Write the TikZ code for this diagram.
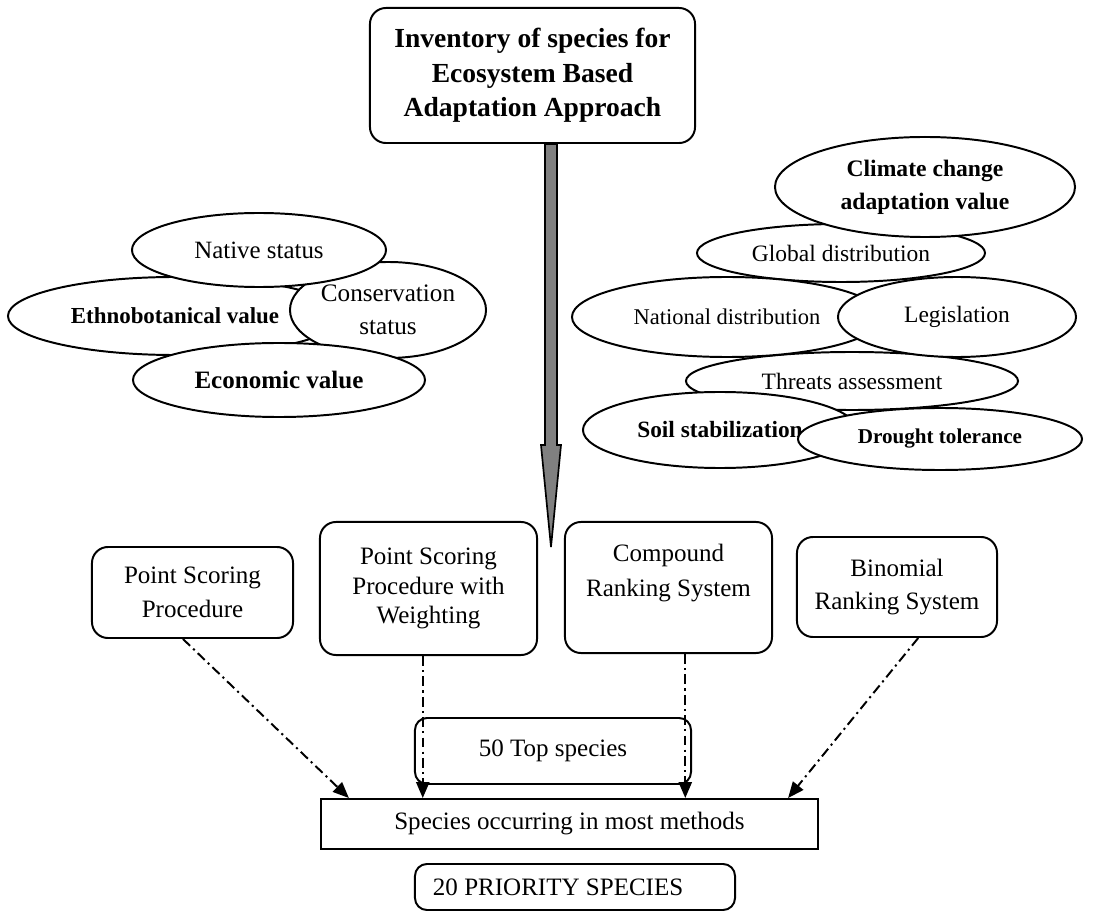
\documentclass[tikz,border=0pt]{standalone}
\usepackage{fontspec}
\setmainfont{Liberation Serif}
\usetikzlibrary{arrows.meta,positioning,shapes,calc}

\begin{document}
\begin{tikzpicture}[
    x=0.025cm, y=-0.025cm,
    box/.style={draw, rounded corners=0.4cm, line width=1.4pt, align=center, inner sep=0pt, font=\fontsize{17.8}{24}\selectfont},
    ell/.style={draw, ellipse, fill=white, line width=1.4pt, align=center, inner sep=0pt, font=\fontsize{16.7}{23.5}\selectfont},
    flow/.style={-{Triangle[length=0.4cm, width=0.33cm]}, line width=1.4pt, dash pattern=on 7pt off 3pt on 1.5pt off 3pt}
]
\useasboundingbox (0,0) rectangle (1120,912);

% Inventory (top) and the big arrow
\node[box, minimum width=8.125cm, minimum height=3.375cm, font=\bfseries\fontsize{19.6}{24.5}\selectfont] (inv) at (532.5,75.5) {Inventory of species for\\Ecosystem Based\\Adaptation Approach};
\coordinate (neck) at (551,445);
\coordinate (tip) at (551,547);
\draw[line width=1.2pt, fill=gray] ($(inv.south -| neck)+(-6,0)$) -- ($(neck)+(-6,0)$) -- ($(neck)+(-10,0)$) -- (tip) -- ($(neck)+(10,0)$) -- ($(neck)+(6,0)$) -- ($(inv.south -| neck)+(6,0)$) -- cycle;

% Criteria (left side)
\node[ell, minimum width=8.35cm, minimum height=1.95cm, font=\bfseries\fontsize{16.3}{22}\selectfont] (eth) at (175,316) {Ethnobotanical value};
\node[ell, minimum width=4.9cm, minimum height=2.4cm, font=\fontsize{17.9}{23.5}\selectfont] (cons) at (388,310) {Conservation\\status};
\node[ell, minimum width=7.3cm, minimum height=1.85cm, font=\bfseries\fontsize{17.8}{22}\selectfont] (econ) at (279,380) {Economic value};
\node[ell, minimum width=6.35cm, minimum height=1.85cm, font=\fontsize{17.7}{22}\selectfont] (native) at (259,250) {Native status};

% Criteria (right side)
\node[ell, minimum width=7.2cm, minimum height=1.45cm] (glob) at (841,253) {Global distribution};
\node[ell, minimum width=7.5cm, minimum height=2.5cm, font=\bfseries\fontsize{16.8}{23.5}\selectfont] (clim) at (925,187) {Climate change\\adaptation value};
\node[ell, minimum width=8.3cm, minimum height=1.45cm] (threat) at (852,381) {Threats assessment};
\node[ell, minimum width=7.75cm, minimum height=2cm, font=\fontsize{16}{22}\selectfont] (nat) at (727,317) {National distribution};
\node[ell, minimum width=5.95cm, minimum height=2cm] (legis) at (957,317) {Legislation};
\node[ell, minimum width=6.85cm, minimum height=1.9cm, font=\bfseries\fontsize{16.6}{22}\selectfont] (soil) at (720,430) {Soil stabilization};
\node[ell, minimum width=7.1cm, minimum height=1.55cm, font=\bfseries\fontsize{15}{20}\selectfont] (drought) at (940,439) {Drought tolerance};

% Ranking methods
\node[box, minimum width=5.025cm, minimum height=2.275cm] (psp) at (192.5,592.5) {Point Scoring\\Procedure};
\node[box, minimum width=5.425cm, minimum height=3.325cm, font=\fontsize{17.8}{21}\selectfont] (pspw) at (428.5,588.5) {Point Scoring\\Procedure with\\Weighting};
\node[box, minimum width=5.175cm, minimum height=3.275cm, font=\fontsize{17.8}{25}\selectfont] (crs) at (668.5,587.5) {Compound\\Ranking System\\~};
\node[box, minimum width=5cm, minimum height=2.5cm, font=\fontsize{17.8}{23.5}\selectfont] (brs) at (897,587) {Binomial\\Ranking System};

% Results
\node[box, rounded corners=0.3cm, minimum width=6.9cm, minimum height=1.65cm] (top50) at (553,751) {50 Top species};
\node[draw, line width=1.4pt, minimum width=12.425cm, minimum height=1.25cm, inner sep=0pt, font=\fontsize{17.8}{24}\selectfont] (most) at (569.5,824) {Species occurring in most methods};
\node[box, rounded corners=0.3cm, minimum width=8cm, minimum height=1.15cm, text width=7.1cm, align=flush left, inner xsep=0.45cm] (prio) at (575,887) {20 PRIORITY SPECIES};

\coordinate (e1) at ($(most.north west)!0.058!(most.north east)$);
\coordinate (e2) at ($(most.north west)!0.206!(most.north east)$);
\coordinate (e3) at ($(most.north west)!0.732!(most.north east)$);
\coordinate (e4) at ($(most.north west)!0.938!(most.north east)$);

\draw[flow] ($(psp.south west)!0.453!(psp.south east)$) -- (e1);
\draw[flow] (pspw.south -| e2) -- (e2);
\draw[flow] (crs.south -| e3) -- (e3);
\draw[flow] ($(brs.south west)!0.605!(brs.south east)$) -- (e4);
\end{tikzpicture}
\end{document}
